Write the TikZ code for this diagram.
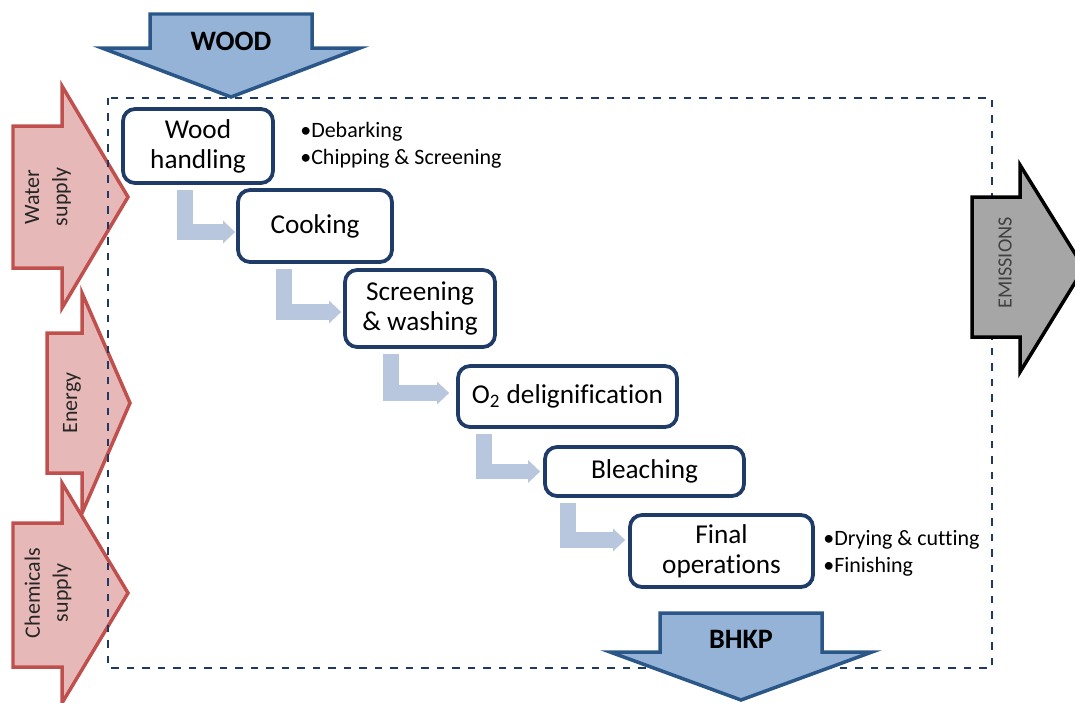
\documentclass[tikz,border=0pt]{standalone}
\usepackage{fontspec}
\setmainfont{Carlito}[Ligatures=NoCommon]
\usepackage{tikz}
\usetikzlibrary{arrows.meta, calc}
\definecolor{boxblue}{HTML}{1F3B68}
\definecolor{flowblue}{HTML}{B9C7DE}
\definecolor{woodfill}{HTML}{95B3D7}
\definecolor{woodline}{HTML}{2B5788}
\definecolor{pinkfill}{HTML}{E6B9B8}
\definecolor{pinkline}{HTML}{C0504D}
\definecolor{emitfill}{HTML}{A6A6A6}
\definecolor{frameblue}{HTML}{1F3864}
\tikzstyle{stage} = [draw=boxblue, line width=0.075cm, rounded corners=0.24cm, fill=white, align=center, inner sep=0pt, font=\fontsize{15.5}{17}\selectfont]
\tikzstyle{flow} = [draw=flowblue, line width=0.31cm, -{Triangle[length=0.24cm, width=0.44cm]}]
\tikzstyle{frame} = [draw=frameblue, line width=0.05cm, dash pattern=on 0.15cm off 0.16cm]
\tikzstyle{feed} = [draw=pinkline, fill=pinkfill, line width=0.07cm]
\tikzstyle{product} = [draw=woodline, fill=woodfill, line width=0.07cm]
\tikzstyle{emit} = [draw=black, fill=emitfill, line width=0.07cm]
\tikzstyle{feedtext} = [rotate=90, align=center, inner sep=0pt, text=black!85, font=\fontsize{12.5}{16}\selectfont]
\tikzstyle{bigtext} = [inner sep=0pt, font=\bfseries\fontsize{16}{18}\selectfont]
\tikzstyle{note} = [anchor=west, align=left, inner sep=0pt, font=\fontsize{12.5}{15.3}\selectfont]

\begin{document}
\begin{tikzpicture}[x=0.02cm, y=-0.02cm]
    \useasboundingbox (0,0) rectangle (1075,703);
    \draw[feed] (13,126) -- (62,126) -- (62,86) -- (128,197) -- (62,308) -- (62,268) -- (13,268) -- cycle;
    \draw[feed] (47,333) -- (82,333) -- (82,293) -- (130,403) -- (82,513) -- (82,473) -- (47,473) -- cycle;
    \draw[feed] (13,523) -- (62,523) -- (62,483) -- (128,593) -- (62,703) -- (62,667) -- (13,667) -- cycle;
    \node[feedtext] (water) at (48,197) {Water\\supply};
    \node[feedtext] (energy) at (72,403) {Energy};
    \node[feedtext] (chem) at (48,593) {Chemicals\\supply};
    \draw[frame] (108,98) rectangle (992,668);

    \node[stage, minimum width=3cm, minimum height=1.48cm] (wood) at (198,146) {Wood\\handling};
    \node[stage, minimum width=3.08cm, minimum height=1.44cm] (cook) at (315,226) {Cooking};
    \node[stage, minimum width=3cm, minimum height=1.54cm] (screen) at (420,308.5) {Screening\\\& washing};
    \node[stage, minimum width=4.38cm, minimum height=1.22cm] (oxy) at (567.5,396.5) {O\textsubscript{2} delignification};
    \node[stage, minimum width=3.98cm, minimum height=0.98cm] (bleach) at (644.5,471.5) {Bleaching};
    \node[stage, minimum width=3.66cm, minimum height=1.44cm] (final) at (721.5,551) {Final\\operations};

    \draw[flow] ($(wood.south west)+(64,5)$) |- ($(cook.west)+(-1,6)$);
    \draw[flow] ($(cook.south west)+(48,5)$) |- ($(screen.west)+(-2,3.5)$);
    \draw[flow] ($(screen.south west)+(48,5)$) |- ($(oxy.west)+(-7,-3.5)$);
    \draw[flow] ($(oxy.south west)+(28,5)$) |- ($(bleach.west)+(-3,0)$);
    \draw[flow] ($(bleach.south west)+(25,5)$) |- ($(final.west)+(-3,-11)$);

    \node[note] (woodnote) at (300,145) {\textbullet Debarking\\\textbullet Chipping \& Screening};
    \node[note] (finalnote) at (823,553) {\textbullet Drying \& cutting\\\textbullet Finishing};

    \draw[product] (150,14) -- (312,14) -- (312,48) -- (360,48) -- (231,97) -- (102,48) -- (150,48) -- cycle;
    \node[bigtext] (woodin) at (231,41) {WOOD};
    \draw[product] (660,613) -- (822,613) -- (822,652) -- (872,652) -- (741,700) -- (610,652) -- (660,652) -- cycle;
    \node[bigtext] (bhkp) at (741,639) {BHKP};
    \draw[emit] (972,197) -- (1020,197) -- (1020,165) -- (1084,268) -- (1020,372) -- (1020,337) -- (972,337) -- cycle;
    \node[rotate=90, inner sep=0pt, text=black!75, font=\fontsize{11.5}{14}\selectfont] (emis) at (1005,263) {EMISSIONS};
\end{tikzpicture}
\end{document}
